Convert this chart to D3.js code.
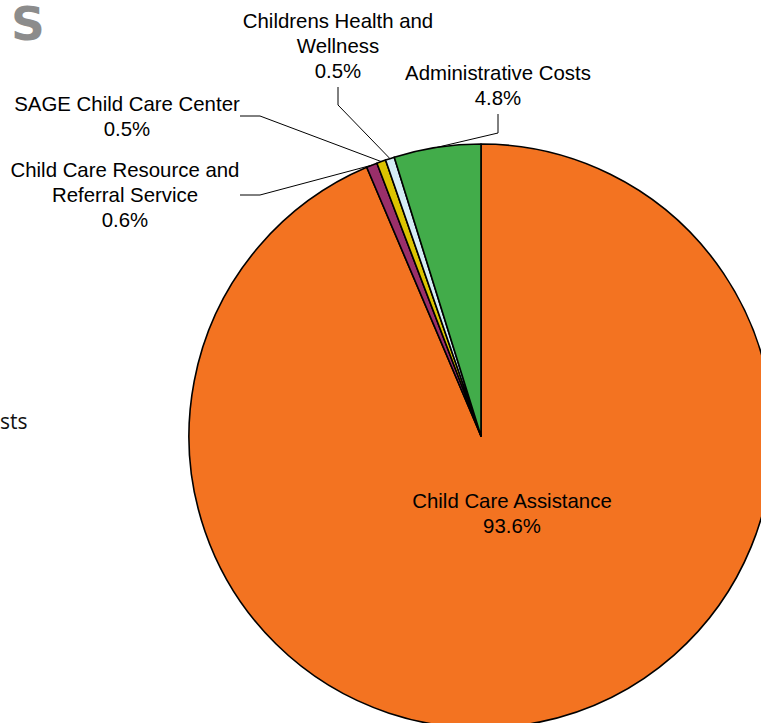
<!DOCTYPE html>
<html>
<head>
<meta charset="utf-8">
<script src="https://cdn.jsdelivr.net/npm/d3@7/dist/d3.min.js"></script>
<style>
  html, body { margin: 0; padding: 0; background: #fff; overflow: hidden; }
  svg { display: block; }
</style>
</head>
<body>
<svg id="chart" width="761" height="723"></svg>
<script>
// ---- data ----
const categories = ["Child Care Assistance", "Child Care Resource and Referral Service", "SAGE Child Care Center", "Childrens Health and Wellness", "Administrative Costs"];
const values = [93.6, 0.6, 0.5, 0.5, 4.8];
const percentLabels = ["93.6%", "0.6%", "0.5%", "0.5%", "4.8%"];
const colors = ["#F37321", "#9A2F6A", "#DCC300", "#D4ECF4", "#42AC4A"];

// ---- layout ----
const W = 761, H = 723;
const cx = 481, cy = 436, R = 292;
const svg = d3.select("#chart");
const font = "'Liberation Sans', Arial, sans-serif";

// background remnants of slide
svg.append("text").attr("x", 11).attr("y", 40)
  .attr("font-family", "'DejaVu Sans', sans-serif").attr("font-weight", "bold")
  .attr("font-size", 47).attr("fill", "#8c8c8c").text("S");
svg.append("text").attr("x", 0).attr("y", 429)
  .attr("font-family", "'Open Sans', 'Liberation Sans', sans-serif")
  .attr("font-size", 21).attr("fill", "#111").text("sts");

const pie = d3.pie().sort(null).value(d => d).startAngle(0).endAngle(2 * Math.PI);
const arcs = pie(values);
const arc = d3.arc().innerRadius(0).outerRadius(R);

const g = svg.append("g").attr("transform", `translate(${cx},${cy})`);
g.selectAll("path.slice").data(arcs).enter().append("path")
  .attr("class", "slice")
  .attr("d", arc)
  .attr("fill", (d, i) => colors[i])
  .attr("stroke", "#000").attr("stroke-width", 1.6).attr("stroke-linejoin", "round");

// label layout
const labelLayout = [
  { i: 0, x: 512, y: 508, lines: ["Child Care Assistance"], leader: null },
  { i: 1, x: 125, y: 177, lines: ["Child Care Resource and", "Referral Service"], leader: [[240, 195], [260, 195]] },
  { i: 2, x: 127, y: 111, lines: ["SAGE Child Care Center"], leader: [[240, 116], [260, 116]] },
  { i: 3, x: 338, y: 28, lines: ["Childrens Health and", "Wellness"], leader: [[338, 87], [338, 105]] },
  { i: 4, x: 498, y: 80, lines: ["Administrative Costs"], leader: [[498, 114], [498, 133]] }
];
const lh = 25;

labelLayout.forEach(L => {
  const t = svg.append("text").attr("text-anchor", "middle")
    .attr("font-family", font).attr("font-size", 20.4).attr("fill", "#000");
  const all = L.lines.concat([percentLabels[L.i]]);
  all.forEach((s, k) => {
    t.append("tspan").attr("x", L.x).attr("y", L.y + k * lh).text(s);
  });
  if (L.leader) {
    const a = arcs[L.i];
    const mid = (a.startAngle + a.endAngle) / 2;
    const px = cx + R * Math.sin(mid), py = cy - R * Math.cos(mid);
    const pts = L.leader.concat([[px, py]]);
    svg.append("path").attr("d", d3.line()(pts))
      .attr("fill", "none").attr("stroke", "#000").attr("stroke-width", 1);
  }
});
</script>
</body>
</html>
